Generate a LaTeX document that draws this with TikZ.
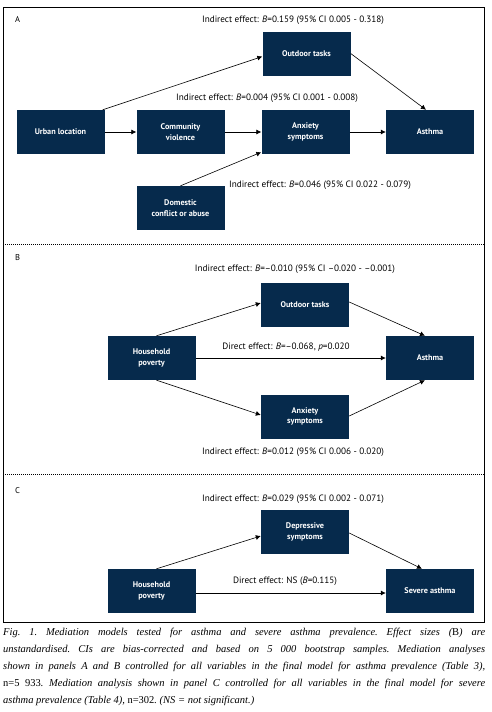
\documentclass[tikz,border=0pt]{standalone}
\usepackage{fontspec}
\setmainfont{Liberation Serif}
\newfontfamily\boxfont{PT Sans}
\usetikzlibrary{arrows.meta}
\definecolor{navy}{HTML}{062A4C}
\begin{document}
\begin{tikzpicture}[x=1pt,y=-1pt,
  box/.style={fill=navy, text=white, font=\boxfont\bfseries\fontsize{8.2}{10.5}\selectfont, minimum width=88pt, minimum height=44pt, align=center, inner sep=0pt},
  lbl/.style={font=\boxfont\fontsize{9.2}{10}\selectfont, inner sep=0pt},
  arr/.style={-{Latex[length=5pt,width=5pt]}, line width=0.6pt},
  sep/.style={line width=0.6pt, dash pattern=on 1pt off 1pt},
  panel/.style={font=\boxfont\fontsize{8.5}{9}\selectfont, inner sep=0pt, anchor=west}
]
\useasboundingbox (0,0) rectangle (491,712);
\draw[line width=0.8pt] (3,7) rectangle (484,622);
\draw[sep] (3,244) -- (484,244);
\draw[sep] (3,474) -- (484,474);

% Panel A
\node[panel] (pa) at (15,19) {A};
\node[box] (outA) at (306.5,53.5) {Outdoor tasks};
\node[box] (urbA) at (60.5,132) {Urban location};
\node[box] (comA) at (180.5,132) {Community\\violence};
\node[box] (anxA) at (305.5,132) {Anxiety\\symptoms};
\node[box] (astA) at (430,132) {Asthma};
\node[box] (domA) at (180.5,208) {Domestic\\conflict or abuse};
\draw[arr] (urbA) -- (comA);
\draw[arr] (comA) -- (anxA);
\draw[arr] (anxA) -- (astA);
\draw[arr] ([xshift=-2pt]urbA.north east) -- ([yshift=-3pt]outA.west);
\draw[arr] (outA.east) -- ([xshift=-4pt]astA.north);
\draw[arr] (domA.north) -- ([yshift=2pt]anxA.south west);
\node[lbl] (la1) at (293,20) {Indirect effect: \textit{B}=0.159 (95\% CI 0.005 - 0.318)};
\node[lbl] (la2) at (267,98) {Indirect effect: \textit{B}=0.004 (95\% CI 0.001 - 0.008)};
\node[lbl] (la3) at (320,185) {Indirect effect: \textit{B}=0.046 (95\% CI 0.022 - 0.079)};

% Panel B
\node[panel] (pb) at (15,258) {B};
\node[box] (outB) at (305,305) {Outdoor tasks};
\node[box] (hpB) at (151.5,358) {Household\\poverty};
\node[box] (astB) at (430,358) {Asthma};
\node[box] (anxB) at (305,416.5) {Anxiety\\symptoms};
\draw[arr] ([xshift=5pt]hpB.north) -- ([yshift=2pt]outB.west);
\draw[arr] ([yshift=3pt]outB.east) -- ([xshift=-5pt]astB.north);
\draw[arr] (hpB) -- (astB);
\draw[arr] ([xshift=5pt]hpB.south) -- ([yshift=1.5pt]anxB.west);
\draw[arr] ([yshift=0.5pt]anxB.east) -- ([xshift=-5pt]astB.south);
\node[lbl] (lb1) at (295,269) {Indirect effect: \textit{B}=–0.010 (95\% CI –0.020 - –0.001)};
\node[lbl] (lb2) at (286,347) {Direct effect: \textit{B}=–0.068, \textit{p}=0.020};
\node[lbl] (lb3) at (293,452) {Indirect effect: \textit{B}=0.012 (95\% CI 0.006 - 0.020)};

% Panel C
\node[panel] (pc) at (15,491) {C};
\node[box] (depC) at (305,532) {Depressive\\symptoms};
\node[box] (hpC) at (151.5,591) {Household\\poverty};
\node[box] (astC) at (430,591) {Severe asthma};
\draw[arr] ([xshift=5pt]hpC.north) -- ([yshift=-4pt]depC.west);
\draw[arr] ([yshift=-1pt]depC.east) -- ([xshift=-8pt]astC.north);
\draw[arr] ([yshift=-2pt]hpC.east) -- ([yshift=-2pt]astC.west);
\node[lbl] (lc1) at (293,499) {Indirect effect: \textit{B}=0.029 (95\% CI 0.002 - 0.071)};
\node[lbl] (lc2) at (285,581) {Direct effect: NS (\textit{B}=0.115)};

% Caption
\node[anchor=north west, text width=482pt, align=justify, inner sep=0pt,
      font=\itshape\fontsize{10.5}{17}\selectfont\frenchspacing] (cap) at (3,628)
{Fig. 1. Mediation models tested for asthma and severe asthma prevalence. Effect sizes ({\upshape B}) are\linebreak
unstandardised. CIs are bias-corrected and based on 5~000 bootstrap samples. Mediation analyses\linebreak
shown in panels A and B controlled for all variables in the final model for asthma prevalence (Table 3),\linebreak
{\upshape n=5~933}. Mediation analysis shown in panel C controlled for all variables in the final model for severe\linebreak
asthma prevalence (Table 4), {\upshape n=302}. (NS = not significant.)};
\end{tikzpicture}
\end{document}
